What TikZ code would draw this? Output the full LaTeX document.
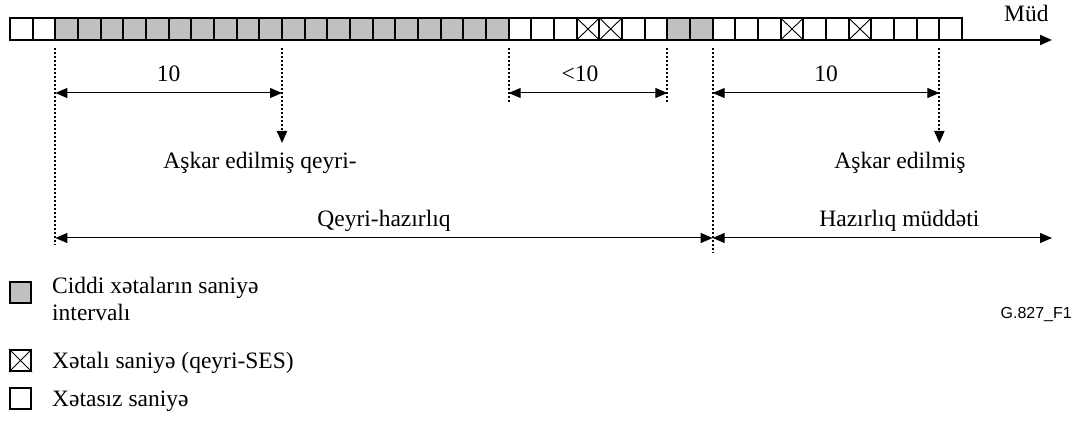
\documentclass[tikz,border=0pt]{standalone}
\usepackage{fontspec}
\setmainfont{Liberation Serif}
\newfontfamily\figsans{Liberation Sans}
\usepackage{tikz}
\usetikzlibrary{arrows.meta}

\definecolor{sesgray}{RGB}{192,192,192}

\begin{document}
\begin{tikzpicture}[x=1pt, y=-1pt, >={Triangle[length=12pt,width=10pt]},
  cell/.style={rectangle, draw, line width=2pt, minimum width=22.667pt,
    minimum height=22pt, inner sep=0pt, outer sep=0pt},
  keybox/.style={rectangle, draw, line width=2pt, minimum size=21pt, inner sep=0pt},
  tick/.style={line width=2pt, dash pattern=on 2pt off 2pt},
  span/.style={<->, line width=1pt},
  txt/.style={font=\fontsize{23.5}{27}\selectfont, inner sep=0pt}]
  \useasboundingbox (0,0) rectangle (1075,427);
  % Seconds strip
  \foreach \i in {0,1,22,23,...,28,31,32,...,41}
    \node[cell] (c\i) at ({21.333+22.667*\i},29) {};
  \foreach \i in {2,...,21,29,30}
    \node[cell, fill=sesgray] (c\i) at ({21.333+22.667*\i},29) {};
  \foreach \i in {25,26,34,37}
    \draw[line width=0.9pt] (c\i.north west) -- (c\i.south east) (c\i.north east) -- (c\i.south west);
  % Time axis
  \coordinate (axisend) at (1052,40);
  \draw[->, line width=2pt] (c41.south east) -- (axisend);
  \node[txt, anchor=base west] (time) at (1004,22) {Müd};
  % Levels of markers and dimension arrows
  \coordinate (upper) at (0,93);
  \coordinate (short) at (0,102);
  \coordinate (tip) at (0,143);
  \coordinate (lower) at (0,238);
  \coordinate (deep) at (0,245);
  \coordinate (deeper) at (0,253);
  % Dotted markers
  \draw[tick] ([yshift=-8pt]c2.south west) -- (c2.south west |- deep);
  \draw[tick] ([yshift=-8pt]c22.south west) -- (c22.south west |- short);
  \draw[tick] ([yshift=-8pt]c29.south west) -- (c29.south west |- short);
  \draw[tick] ([yshift=-8pt]c31.south west) -- (c31.south west |- deeper);
  % Detections
  \node[txt, anchor=base] (seen1) at (260,169) {Aşkar edilmiş qeyri-};
  \node[txt, anchor=base] (seen2) at (900,169) {Aşkar edilmiş};
  \draw[tick, ->] ([yshift=-8pt]c12.south west) -- (c12.south west |- tip);
  \draw[tick, ->] ([yshift=-8pt]c41.south west) -- (c41.south west |- tip);
  % Dimension arrows
  \draw[span] (c2.south west |- upper) -- node[txt, anchor=base, yshift=11pt] {10} (c12.south west |- upper);
  \draw[span] (c22.south west |- upper) -- node[txt, anchor=base, xshift=-8pt, yshift=11pt] {<10} (c29.south west |- upper);
  \draw[span] (c31.south west |- upper) -- node[txt, anchor=base, yshift=11pt] {10} (c41.south west |- upper);
  \draw[span] (c2.south west |- lower) -- node[txt, anchor=base, yshift=11pt] {Qeyri-hazırlıq} (c31.south west |- lower);
  \draw[span] (c31.south west |- lower) -- node[txt, anchor=base, xshift=17pt, yshift=11pt] {Hazırlıq müddəti} (axisend |- lower);
  % Legend
  \node[keybox, fill=sesgray] (key1) at (20.5,293) {};
  \node[txt, anchor=north west, align=left] (key1t) at (52,277) {Ciddi xətaların saniyə\\intervalı};
  \node[keybox] (key2) at (20.5,360.5) {};
  \draw[line width=0.9pt] (key2.north west) -- (key2.south east) (key2.north east) -- (key2.south west);
  \node[txt, anchor=base west] (key2t) at (52,368) {Xətalı saniyə (qeyri-SES)};
  \node[keybox] (key3) at (20.5,398.5) {};
  \node[txt, anchor=base west] (key3t) at (52,406) {Xətasız saniyə};
  \node[font=\figsans\fontsize{16}{18}\selectfont, inner sep=0pt, anchor=base east] (fig) at (1072,318) {G.827\_F1};
\end{tikzpicture}
\end{document}
